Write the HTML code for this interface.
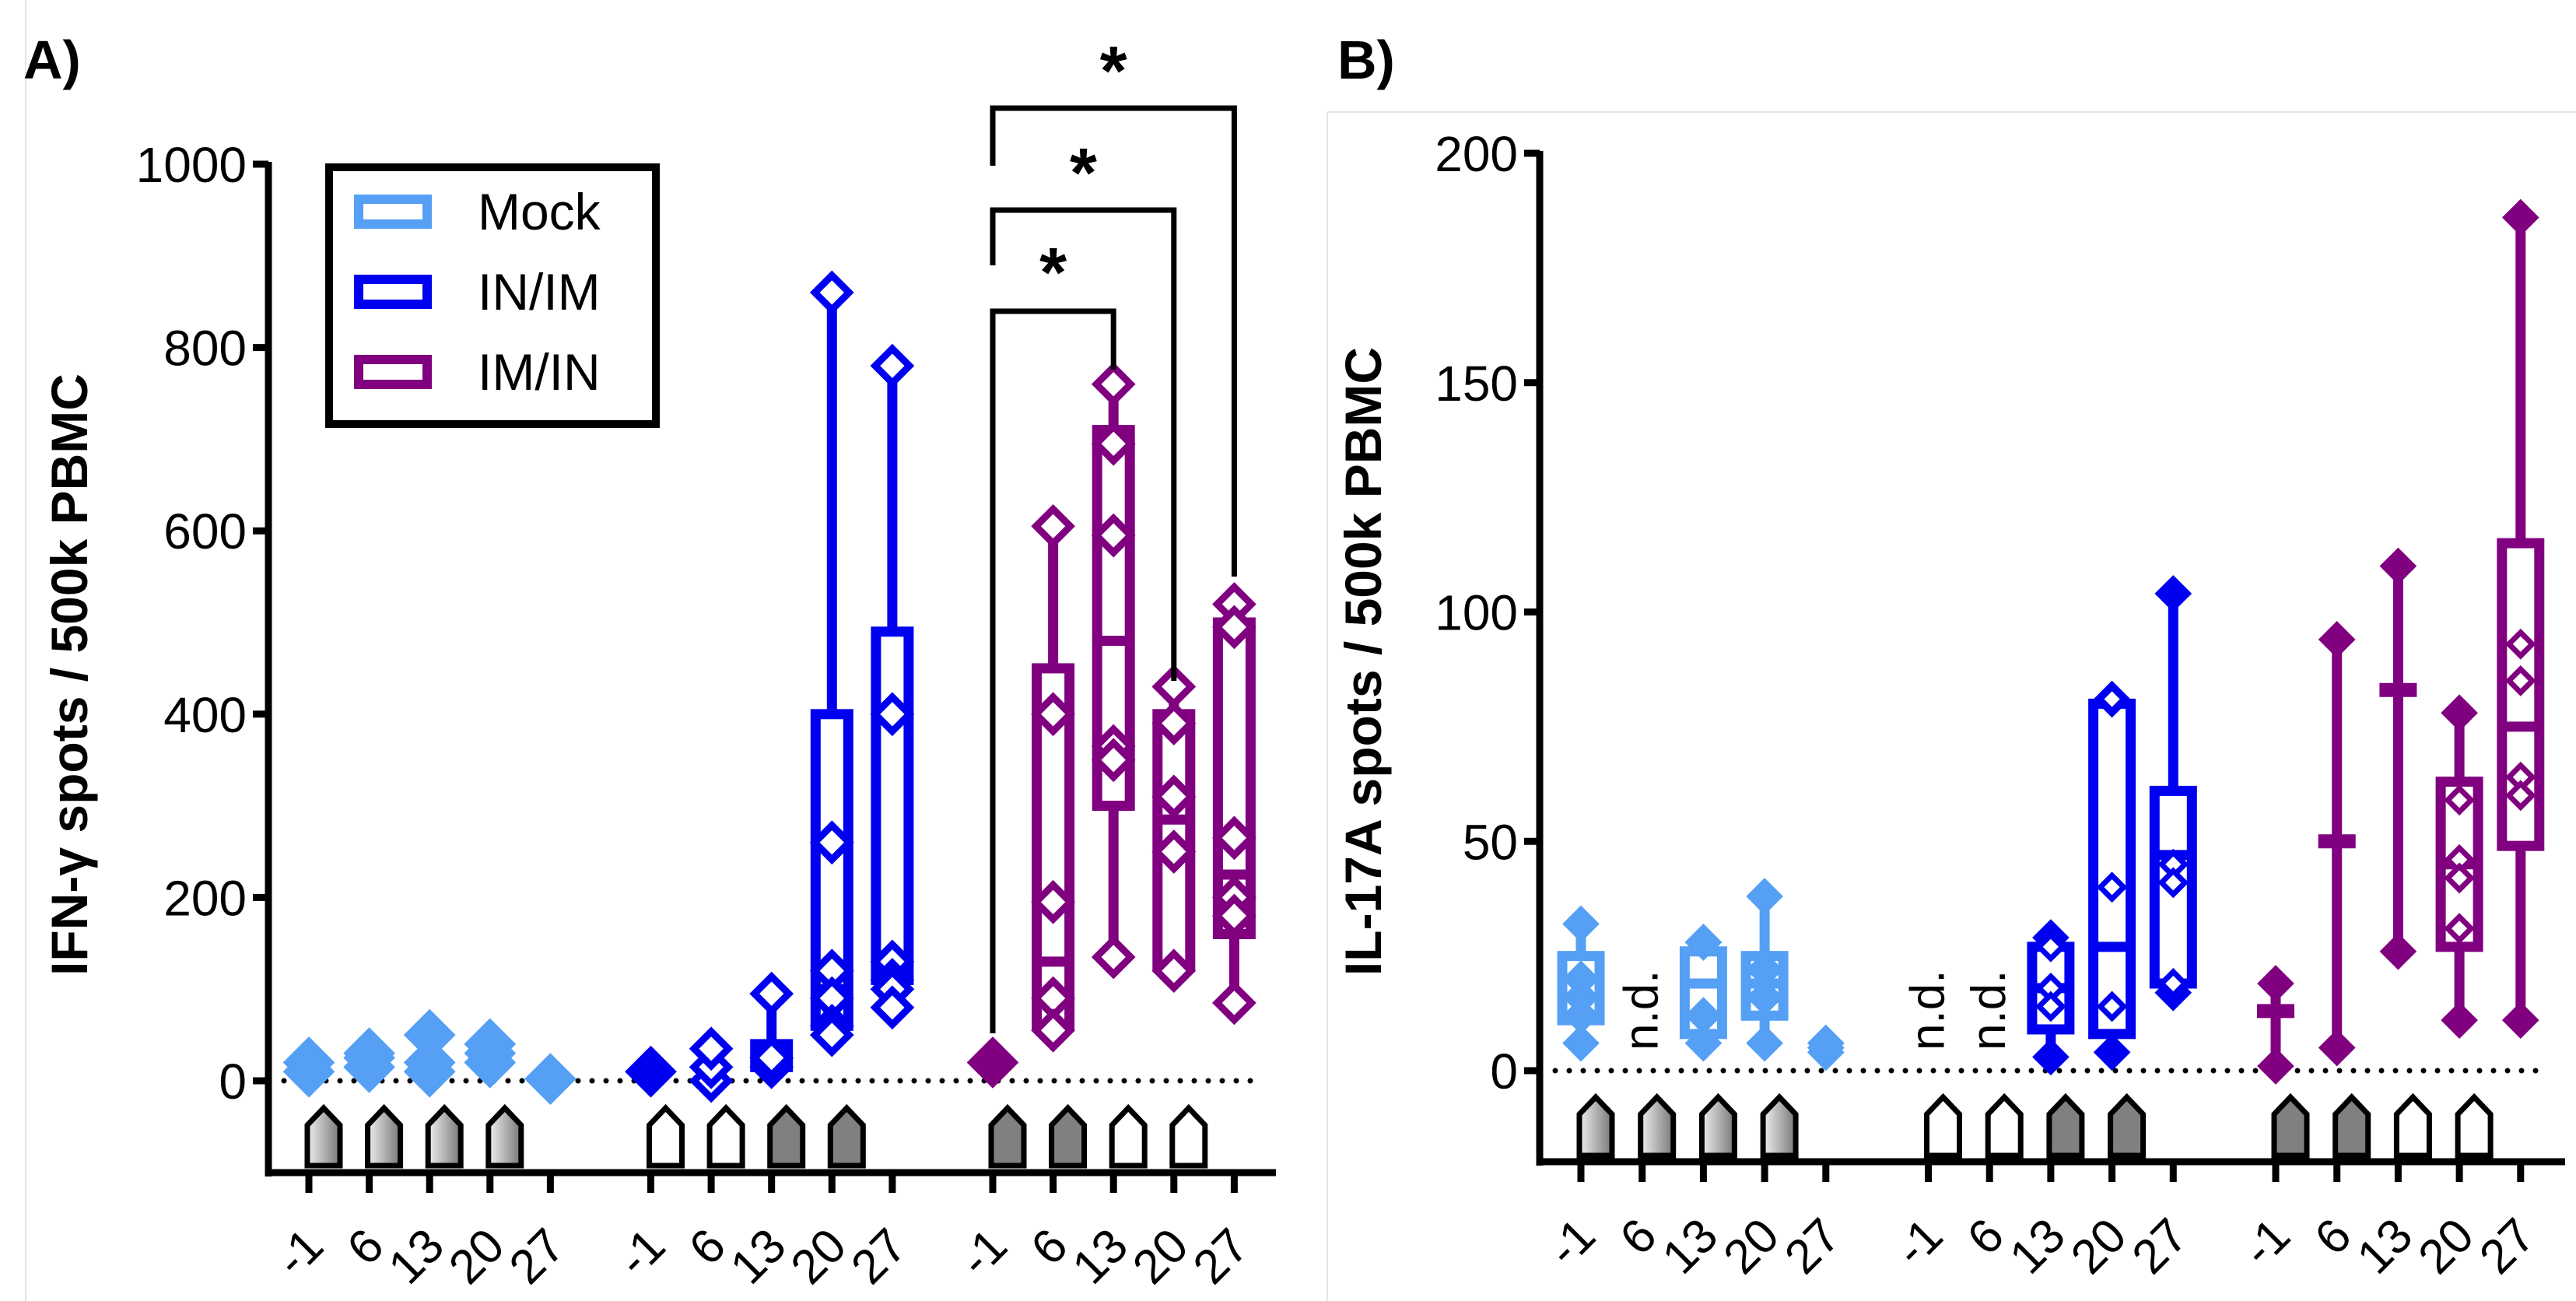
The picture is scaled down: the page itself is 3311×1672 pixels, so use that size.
<!DOCTYPE html>
<html><head><meta charset="utf-8"><style>
html,body{margin:0;padding:0;background:#fff;}
svg{display:block;}
text{font-family:"Liberation Sans",Arial,sans-serif;}
</style></head><body>
<svg id="fig" width="3311" height="1672" viewBox="0 0 3311 1672" xmlns="http://www.w3.org/2000/svg">
<defs>
<linearGradient id="grad" x1="0" x2="1" y1="0" y2="0"><stop offset="0" stop-color="#f0f0f0"/><stop offset="1" stop-color="#777"/></linearGradient>
</defs>
<line x1="33" y1="0" x2="33" y2="1672" stroke="#e4e4e4" stroke-width="2"/>
<line x1="1706" y1="144" x2="1706" y2="1672" stroke="#e4e4e4" stroke-width="2"/>
<line x1="1706" y1="144" x2="3311" y2="144" stroke="#e4e4e4" stroke-width="2"/>
<text x="30" y="101" font-size="70" font-weight="bold">A)</text>
<text x="1719" y="101" font-size="70" font-weight="bold">B)</text>
<g id="gA"></g>
<g id="gB"></g>
</svg>
<script>
// ---- shared data ----
const days = ["-1","6","13","20","27"];
const groups = ["Mock","IN/IM","IM/IN"];
const colors = ["#55a0f5","#0000f0","#800080"];
const houseFill = [["grad","grad","grad","grad",null],["white","white","#808080","#808080",null],["#808080","#808080","white","white",null]];

// Panel A: IFN-gamma (per group, per day)
const aMin = [[null,null,null,null,null],[null,null,15,40,80],[null,55,135,115,85]];
const aQ1  = [[null,null,null,null,null],[null,null,15,60,110],[null,60,300,125,160]];
const aMed = [[null,null,null,null,null],[null,null,25,100,130],[null,130,480,285,225]];
const aQ3  = [[null,null,null,null,null],[null,null,40,400,490],[null,450,710,400,500]];
const aMax = [[null,null,null,null,null],[null,null,95,860,780],[null,605,760,430,520]];
const aPts = [
 [[10,20],[15,25,30],[10,20,50],[20,30,40],[2]],
 [[10],[0,15,35],[15,25,95],[860,260,120,90,60,50],[780,400,130,110,100,80]],
 [[20],[605,400,195,90,55],[760,695,595,365,350,135],[430,390,310,250,120],[520,495,265,200,180,85]]
];
const aFilledPts = [[true,true,true,true,true],[true,false,false,false,false],[true,false,false,false,false]];
const aTicks = [0,200,400,600,800,1000];

// Panel B: IL-17A
const bMin = [[6,null,6,6,null],[null,null,3,4,17],[1,5,26,11,11]];
const bQ1  = [[11,null,8,12,null],[null,null,9,8,19],[13,50,83,27,49]];
const bMed = [[16,null,19,19,null],[null,null,18,27,47],[13,50,83,45,75]];
const bQ3  = [[25,null,26,25,null],[null,null,27,80,61],[13,50,83,63,115]];
const bMax = [[32,null,28,38,null],[null,null,29,81,104],[19,94,110,78,186]];
const bPts = [
 [[20,16,12],[],[28,12],[22,16],[4,5,6]],
 [[],[],[27,18,14],[81,40,14],[45,41,19]],
 [[],[],[],[59,46,42,31],[93,85,64,60]]
];
const bND = [[false,true,false,false,false],[true,true,false,false,false],[false,false,false,false,false]];
const bTicks = [0,50,100,150,200];

const NS="http://www.w3.org/2000/svg";
function mk(parent,tag,attrs,txt){const e=document.createElementNS(NS,tag);for(const k in attrs)e.setAttribute(k,attrs[k]);if(txt!==undefined)e.textContent=txt;parent.appendChild(e);return e;}

function drawPanel(g, cfg){
  const {x0, y0, yScale, axisY, axisXEnd, topY, ticks, xPos, houseTop, houseBot, labelY, titleX, titleY, title} = cfg;
  const y = v => y0 - v*yScale;
  const ya=mk(g,'line',{x1:x0,y1:topY-3,x2:x0,y2:axisY+5,stroke:'#000','stroke-width':9});
  
  
  const xa=mk(g,'line',{x1:x0-4,y1:axisY,x2:axisXEnd,y2:axisY,stroke:'#000','stroke-width':9});
  
  
  ticks.forEach(t=>{
    const l=mk(g,'line',{x1:x0-20,y1:y(t),x2:x0,y2:y(t),stroke:'#000','stroke-width':9});
    
    
    const tx=mk(g,'text',{x:x0-28,y:y(t)+23,'font-size':64,'text-anchor':'end'},String(t));
    
    
  });
  const zl=mk(g,'line',{x1:x0+20,y1:y(0),x2:axisXEnd-30,y2:y(0),stroke:'#000','stroke-width':7,'stroke-dasharray':'0 18','stroke-linecap':'round'});
  
  
  const tt=mk(g,'text',{x:titleX,y:titleY,'font-size':66,'font-weight':'bold','text-anchor':'middle',transform:`rotate(-90 ${titleX} ${titleY})`},title);
  
  
  for(let gi=0;gi<3;gi++){
    for(let di=0;di<5;di++){
      const cx=xPos(gi,di);
      const tk=mk(g,'line',{x1:cx,y1:axisY,x2:cx,y2:axisY+26,stroke:'#000','stroke-width':9});
      
      
      const lx=cx+22, ly=labelY;
      const lb=mk(g,'text',{x:lx,y:ly,'font-size':62,'text-anchor':'end',transform:`rotate(-45 ${lx} ${ly})`},days[di]);
      
      
      const hf=houseFill[gi][di];
      if(hf){
        const hx=cx+19, hw=21, ht=houseTop, hb=houseBot;
        const hp=mk(g,'path',{d:`M${hx-hw} ${hb} L${hx-hw} ${ht+22} L${hx} ${ht} L${hx+hw} ${ht+22} L${hx+hw} ${hb} Z`,fill:hf==='grad'?'url(#grad)':hf,stroke:'#000','stroke-width':7});
        
        
      }
    }
  }
  cfg.drawData(y);
}

function diamond(g,cx,cy,h,col,filled,sw){
  const d=mk(g,'path',{d:`M${cx} ${cy-h} L${cx+h} ${cy} L${cx} ${cy+h} L${cx-h} ${cy} Z`,fill:filled?col:'white',stroke:col,'stroke-width':sw});
  
  
}
function boxplot(g,cx,y,mn,q1,md,q3,mx,col,bw,sw){
  if(mn===null) return;
  const w=mk(g,'line',{x1:cx,y1:y(mx),x2:cx,y2:y(mn),stroke:col,'stroke-width':sw});
  
  
  if(q3>q1){
    const r=mk(g,'rect',{x:cx-bw/2,y:y(q3),width:bw,height:y(q1)-y(q3),fill:'white',stroke:col,'stroke-width':sw});
    
    
  }
  const m=mk(g,'line',{x1:cx-bw/2,y1:y(md),x2:cx+bw/2,y2:y(md),stroke:col,'stroke-width':q3>q1?sw:18});
  
  
}

// ---- Panel A ----
const gA=document.getElementById('gA');
const xA=(gi,di)=>397+gi*439.5+di*77.6;
drawPanel(gA,{x0:345,y0:1389,yScale:1.178,axisY:1507,axisXEnd:1640,topY:211,ticks:aTicks,xPos:xA,houseTop:1424,houseBot:1498,labelY:1605,titleX:112,titleY:867,title:"IFN-\u03b3 spots / 500k PBMC",
 drawData:(y)=>{
  for(let gi=0;gi<3;gi++)for(let di=0;di<5;di++){
    const cx=xA(gi,di), col=colors[gi];
    boxplot(gA,cx,y,aMin[gi][di],aQ1[gi][di],aMed[gi][di],aQ3[gi][di],aMax[gi][di],col,42,13);
    const f=aFilledPts[gi][di];
    aPts[gi][di].forEach(v=>diamond(gA,cx,y(v),f?27:22,col,f,9));
  }
  const br=[[xA(2,0),xA(2,2),400,1328,475,339],[xA(2,0),xA(2,3),270,341,875,211],[xA(2,0),xA(2,4),139,213,741,80]];
  br.forEach(b=>{
    const p=mk(gA,'path',{d:`M${b[0]} ${b[3]} L${b[0]} ${b[2]} L${b[1]} ${b[2]} L${b[1]} ${b[4]}`,fill:'none',stroke:'#000','stroke-width':7});
    
    
    const s=mk(gA,'text',{x:(b[0]+b[1])/2,y:b[5]+42,'font-size':90,'font-weight':'bold','text-anchor':'middle'},'*');
    
    
  });
  const lg=mk(gA,'g',{});
  
  
  mk(lg,'rect',{x:423,y:215,width:420,height:330,fill:'white',stroke:'#000','stroke-width':10});
  const ly=[272,375,478];
  groups.forEach((n,i)=>{
    const sr=mk(lg,'rect',{x:461,y:ly[i]-16,width:88,height:32,fill:'white',stroke:colors[i],'stroke-width':12});
    
    
    const t=mk(lg,'text',{x:614,y:ly[i]+23,'font-size':66},n);
    
    
  });
 }});

// ---- Panel B ----
const gB=document.getElementById('gB');
const xB=(gi,di)=>2032+gi*446.5+di*78.7;
drawPanel(gB,{x0:1979,y0:1376,yScale:5.895,axisY:1493,axisXEnd:3297,topY:197,ticks:bTicks,xPos:xB,houseTop:1410,houseBot:1485,labelY:1592,titleX:1775,titleY:850,title:"IL-17A spots / 500k PBMC",
 drawData:(y)=>{
  for(let gi=0;gi<3;gi++)for(let di=0;di<5;di++){
    const cx=xB(gi,di), col=colors[gi];
    if(bND[gi][di]){
      const tx=cx+20, ty=1350;
      const t=mk(gB,'text',{x:tx,y:ty,'font-size':62,transform:`rotate(-90 ${tx} ${ty})`},'n.d.');
      
      
      continue;
    }
    const mn=bMin[gi][di];
    if(mn!==null){
      boxplot(gB,cx,y,mn,bQ1[gi][di],bMed[gi][di],bQ3[gi][di],bMax[gi][di],col,48,13);
      diamond(gB,cx,y(bMax[gi][di]),21,col,true,4);
      diamond(gB,cx,y(mn),21,col,true,4);
    }
    const filled = gi===0;
    bPts[gi][di].forEach(v=>diamond(gB,cx,y(v),filled?19:15,col,filled,7));
  }
 }});
</script>
</body></html>
